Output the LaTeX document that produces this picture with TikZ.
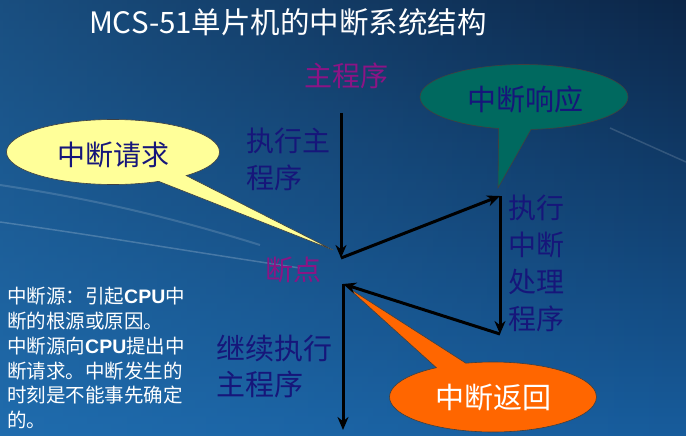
\documentclass[tikz,border=0pt]{standalone}
\usepackage{fontspec}
\setmainfont{Noto Sans CJK SC}
\newfontfamily\latinbold{Liberation Sans}
\definecolor{bgTop}{HTML}{0C2648}
\definecolor{bgBottom}{HTML}{175C9C}
\definecolor{bgLight}{HTML}{2A80C4}
\definecolor{navyText}{HTML}{16167A}
\definecolor{plumText}{HTML}{8C1485}
\definecolor{reqYellow}{HTML}{FFFF99}
\definecolor{ackTeal}{HTML}{00695F}
\definecolor{retOrange}{HTML}{FF6600}
\usetikzlibrary{shapes.callouts, arrows.meta, fadings}

\newcommand{\fsz}[2]{\fontsize{#1pt}{#2pt}\selectfont}

\begin{document}
\begin{tikzpicture}[
    x=1pt, y=-1pt,
    flow/.style={line width=3pt, -{Stealth[length=13pt, width=11pt]}},
    bubble/.style={ellipse callout, draw=black!75, line width=0.6pt,
                   inner sep=0pt, callout pointer arc=18},
    lbl/.style={inner sep=0pt, align=left, text=navyText}
  ]
    % background
    \useasboundingbox (0,0) rectangle (686,436);
    \shade[top color=bgTop, bottom color=bgBottom] (0,0) rectangle (686,436);
    \fill[bgLight, path fading=east, fill opacity=0.45] (0,0) rectangle (686,436);
    \draw[white, opacity=0.15, line width=2pt] (0,185) .. controls (100,200) and (180,220) .. (260,245);
    \draw[white, opacity=0.2, line width=1.5pt] (0,222) .. controls (100,236) and (180,250) .. (300,268);
    \draw[white, opacity=0.15, line width=1.5pt] (610,128) -- (686,162);

    % points of the flow
    \coordinate (mainTop) at (341,113);
    \coordinate (brk) at (341,258);
    \coordinate (isrTop) at (500,196);
    \coordinate (isrEnd) at (500,334);
    \coordinate (back) at (343,284);
    \coordinate (mainEnd) at (343,430);
    \coordinate (reqTip) at (333,250);
    \coordinate (ackTip) at (498,188);
    \coordinate (retTip) at (347,287);

    % callouts
    \node[bubble, fill=reqYellow, minimum width=213pt, minimum height=65pt,
          callout absolute pointer={(reqTip)}] (req) at (113,152) {};
    \node[bubble, fill=ackTeal, minimum width=208pt, minimum height=65pt,
          callout absolute pointer={(ackTip)}] (ack) at (524,97) {};
    \node[bubble, fill=retOrange, minimum width=207pt, minimum height=70pt,
          callout absolute pointer={(retTip)}] (ret) at (493,397) {};
    \node[lbl, font=\fsz{28}{34}] (reqText) at (113,155) {中断请求};
    \node[lbl, font=\fsz{29}{34}] (ackText) at (525,99) {中断响应};
    \node[lbl, font=\fsz{29}{34}, text=white] (retText) at (493,398) {中断返回};

    % flow
    \draw[flow] (mainTop) -- (brk);
    \draw[flow] (brk) -- (isrTop);
    \draw[flow] (isrTop) -- (isrEnd);
    \draw[flow] (isrEnd) -- (back);
    \draw[flow] (back) -- (mainEnd);

    % labels
    \node[lbl, font=\fsz{29.5}{34}, text=white] (title) at (288,22) {MCS-51单片机的中断系统结构};
    \node[lbl, font=\fsz{28}{32}, text=plumText] (main) at (346,76) {主程序};
    \node[lbl, font=\fsz{28}{37}, anchor=north west] (run) at (246,128) {执行主\\程序};
    \node[lbl, font=\fsz{28}{34}, text=plumText] (brkText) at (293,270) {断点};
    \node[lbl, font=\fsz{28}{37}, anchor=north west] (isr) at (508,195) {执行\\中断\\处理\\程序};
    \node[lbl, font=\fsz{29}{36}, anchor=north west] (cont) at (216,335) {继续执行\\主程序};
    \node[lbl, font=\fsz{19.5}{24.8}, text=white, anchor=north west] (note) at (7,287)
      {中断源：引起{\latinbold\bfseries CPU}中\\断的根源或原因。\\中断源向{\latinbold\bfseries CPU}提出中\\断请求。中断发生的\\时刻是不能事先确定\\的。};
  \end{tikzpicture}
\end{document}
